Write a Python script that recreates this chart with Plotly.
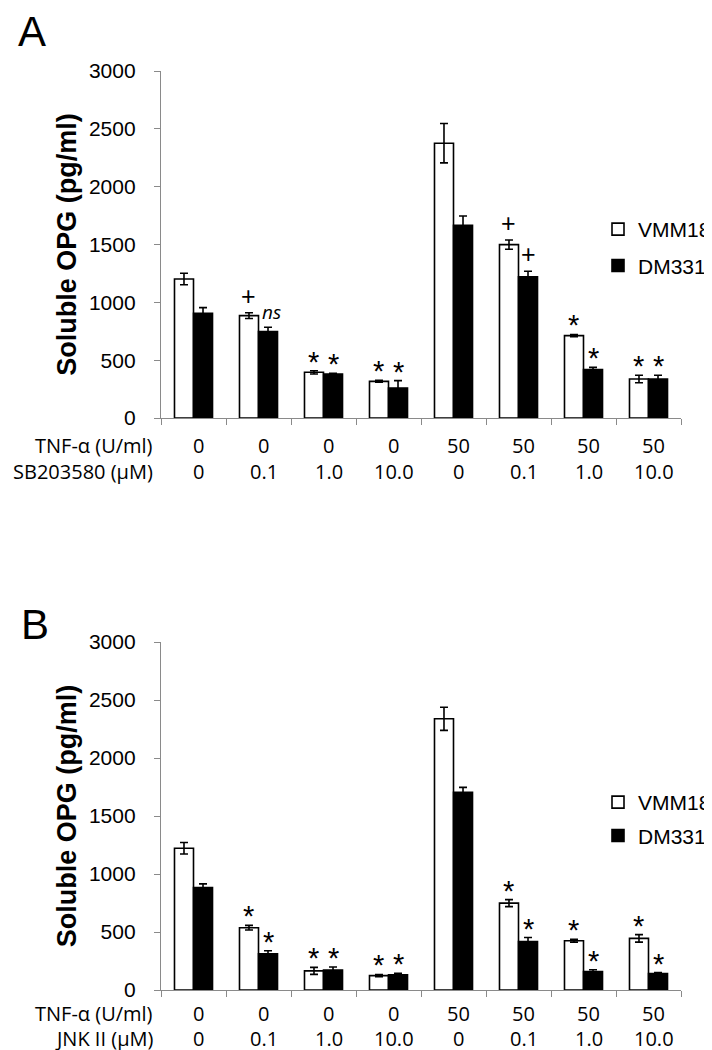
import plotly.graph_objects as go

# ---------------- data ----------------
groups = list(range(8))
tnf = ["0", "0", "0", "0", "50", "50", "50", "50"]
inhib_dose = ["0", "0.1", "1.0", "10.0", "0", "0.1", "1.0", "10.0"]

# Panel A (SB203580)
a_vmm = [1202, 885, 395, 317, 2376, 1499, 712, 337]
a_vmm_err = [50, 25, 14, 8, 170, 40, 10, 32]
a_dm = [906, 747, 381, 260, 1667, 1220, 418, 337]
a_dm_err = [48, 37, 5, 63, 80, 49, 20, 32]
a_sig_vmm = ["", "+", "*", "*", "", "+", "*", "*"]
a_sig_dm = ["", "ns", "*", "*", "", "+", "*", "*"]

# Panel B (JNK II)
b_vmm = [1222, 537, 165, 124, 2338, 749, 425, 445]
b_vmm_err = [50, 20, 30, 10, 100, 30, 12, 32]
b_dm = [884, 313, 173, 130, 1704, 417, 159, 142]
b_dm_err = [31, 25, 25, 15, 43, 35, 15, 8]
b_sig_vmm = ["", "*", "*", "*", "", "*", "*", "*"]
b_sig_dm = ["", "*", "*", "*", "", "*", "*", "*"]

yticks = [0, 500, 1000, 1500, 2000, 2500, 3000]
ytitle = "Soluble OPG (pg/ml)"
row1_label = "TNF-α (U/ml)"
rowA_label = "SB203580 (μM)"
rowB_label = "JNK II (μM)"

# ---------------- layout helpers ----------------
W, H = 712, 1050
L, R, T, B = 153, 39, 63, 68
PW = W - L - R
PH = H - T - B
def px_x(px):
    return (px - L) / PW
def px_y(py):
    return (H - B - py) / PH

BARGAP = 0.415
off = (1 - BARGAP) / 4
AX = "#8a8a8a"

fig = go.Figure()

def add_panel(vmm, vmm_err, dm, dm_err, xa, ya, legend):
    fig.add_trace(go.Bar(
        x=groups, y=vmm, name="VMM18", xaxis=xa, yaxis=ya, legend=legend,
        legendgroup=legend + "1",
        marker=dict(color="white", line=dict(color="black", width=1.6)),
        error_y=dict(type="data", array=vmm_err, color="black", thickness=1.6, width=4),
    ))
    fig.add_trace(go.Bar(
        x=groups, y=dm, name="DM331", xaxis=xa, yaxis=ya, legend=legend,
        legendgroup=legend + "2",
        marker=dict(color="black", line=dict(color="black", width=1.6)),
        error_y=dict(type="data", array=dm_err, color="black", thickness=1.6, width=4),
    ))

add_panel(a_vmm, a_vmm_err, a_dm, a_dm_err, "x", "y", "legend")
add_panel(b_vmm, b_vmm_err, b_dm, b_dm_err, "x2", "y2", "legend2")

axfont = dict(family="Liberation Sans, Arial, sans-serif", size=21, color="black")
xax = dict(range=[-0.5, 7.5], showline=True, linecolor=AX, linewidth=1.3,
           ticks="outside", tickvals=[i - 0.5 for i in range(9)], ticklen=6,
           tickcolor=AX, tickwidth=1.3, showticklabels=False, showgrid=False,
           zeroline=False, fixedrange=True, automargin=False)
yax = dict(range=[0, 3000], tickvals=yticks, showline=True, linecolor=AX,
           linewidth=1.3, ticks="outside", ticklen=6, tickcolor=AX, tickwidth=1.3,
           showgrid=False, zeroline=False, tickfont=axfont, ticklabelstandoff=14,
           automargin=False,
           title=dict(text="<b>" + ytitle + "</b>", standoff=4,
                      font=dict(family="Liberation Sans, Arial, sans-serif", size=27, color="black")))

ya_dom = [px_y(410), 1.0]
yb_dom = [0.0, px_y(634)]

legfont = dict(family="Liberation Sans, Arial, sans-serif", size=21, color="black")
fig.update_layout(
    width=W, height=H, autosize=False,
    margin=dict(l=L, r=R, t=T, b=B, pad=0, autoexpand=False),
    paper_bgcolor="white", plot_bgcolor="white",
    barmode="group", bargap=BARGAP, bargroupgap=0,
    xaxis=dict(xax, anchor="y", domain=[0, 1]),
    yaxis=dict(yax, anchor="x", domain=ya_dom),
    xaxis2=dict(xax, anchor="y2", domain=[0, 1]),
    yaxis2=dict(yax, anchor="x2", domain=yb_dom),
    legend=dict(x=px_x(590), y=px_y(201), xanchor="left", yanchor="top",
                font=legfont, bgcolor="rgba(0,0,0,0)", traceorder="grouped",
                tracegroupgap=6, itemwidth=30),
    legend2=dict(x=px_x(590), y=px_y(774), xanchor="left", yanchor="top",
                 font=legfont, bgcolor="rgba(0,0,0,0)", traceorder="grouped",
                 tracegroupgap=3, itemwidth=30),
    showlegend=True,
)

ann = []
# panel letters
ann.append(dict(text="A", x=px_x(8), y=px_y(-2), xref="paper", yref="paper",
                xanchor="left", yanchor="top", showarrow=False,
                font=dict(family="Liberation Sans, Arial, sans-serif", size=42, color="black")))
ann.append(dict(text="B", x=px_x(11), y=px_y(591), xref="paper", yref="paper",
                xanchor="left", yanchor="top", showarrow=False,
                font=dict(family="Liberation Sans, Arial, sans-serif", size=42, color="black")))

tabfont = dict(family="Open Sans, sans-serif", size=20, color="black")

def add_table(xref, row_y1, row_y2, label2):
    ann.append(dict(text=row1_label, x=px_x(147), y=px_y(row_y1), xref="paper", yref="paper",
                    xanchor="right", yanchor="middle", showarrow=False, font=tabfont))
    ann.append(dict(text=label2, x=px_x(147), y=px_y(row_y2), xref="paper", yref="paper",
                    xanchor="right", yanchor="middle", showarrow=False, font=tabfont))
    for g in groups:
        ann.append(dict(text=tnf[g], x=g, y=px_y(row_y1), xref=xref, yref="paper",
                        xanchor="center", yanchor="middle", xshift=5, showarrow=False, font=tabfont))
        ann.append(dict(text=inhib_dose[g], x=g, y=px_y(row_y2), xref=xref, yref="paper",
                        xanchor="center", yanchor="middle", xshift=5, showarrow=False, font=tabfont))

add_table("x", 437, 463, rowA_label)
add_table("x2", 1005, 1030, rowB_label)

def add_sig(sigs, vals, errs, dx, xref, yref):
    for g in groups:
        s = sigs[g]
        if not s:
            continue
        top = vals[g] + errs[g]
        if s == "*":
            ann.append(dict(text="*", x=g + dx, y=top, xref=xref, yref=yref,
                            xanchor="center", yanchor="bottom", yshift=-9, showarrow=False,
                            font=dict(family="Liberation Sans, Arial, sans-serif", size=29, color="black")))
        elif s == "+":
            ann.append(dict(text="+", x=g + dx, y=top, xref=xref, yref=yref,
                            xanchor="center", yanchor="bottom", yshift=1, showarrow=False,
                            font=dict(family="Liberation Sans, Arial, sans-serif", size=25, color="black")))
        else:
            ann.append(dict(text="<i>" + s + "</i>", x=g + dx, y=top, xref=xref, yref=yref,
                            xanchor="center", yanchor="bottom", yshift=0, xshift=3, showarrow=False,
                            font=dict(family="Open Sans, sans-serif", size=19, color="black")))

add_sig(a_sig_vmm, a_vmm, a_vmm_err, -off, "x", "y")
add_sig(a_sig_dm, a_dm, a_dm_err, off, "x", "y")
add_sig(b_sig_vmm, b_vmm, b_vmm_err, -off, "x2", "y2")
add_sig(b_sig_dm, b_dm, b_dm_err, off, "x2", "y2")

fig.update_layout(annotations=ann)
fig.write_html("out.html")
